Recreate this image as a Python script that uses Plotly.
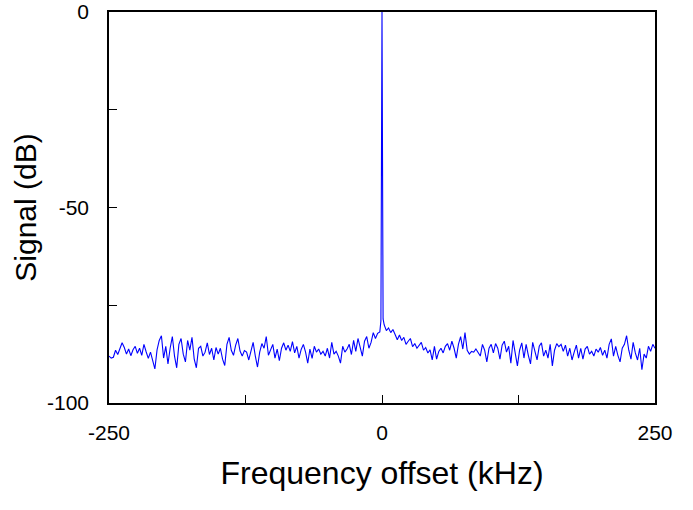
import numpy as np
import plotly.graph_objects as go

# Signal (dB) at 2 kHz steps, from -250 to -2 kHz
left_db = [
    -88.0,-88.5,-88.3,-86.5,-87.6,-86.0,-84.6,-85.8,-87.5,-86.2,-87.9,-86.4,-85.5,-87.3,-86.0,-87.8,-85.0,-86.9,-88.6,-87.0,-89.5,-91.3,-86.4,-84.0,-82.8,
    -88.5,-85.5,-90.0,-86.0,-83.0,-88.0,-91.0,-85.0,-83.5,-87.5,-89.5,-84.0,-86.5,-83.2,-88.7,-91.0,-86.0,-85.5,-88.0,-87.0,-84.6,-87.6,-86.0,-89.0,-85.8,
    -87.5,-86.0,-88.8,-90.4,-85.0,-83.2,-86.5,-87.8,-85.2,-83.5,-86.7,-88.0,-86.6,-87.0,-89.0,-86.5,-84.5,-88.0,-90.8,-87.0,-84.8,-86.0,-83.0,-87.8,-86.5,
    -85.0,-88.5,-86.2,-89.2,-86.0,-84.6,-86.5,-85.2,-86.8,-84.3,-87.2,-85.5,-88.5,-86.3,-85.0,-87.0,-89.8,-86.2,-88.6,-85.5,-87.0,-86.2,-87.5,-86.8,-88.0,
    -86.0,-88.5,-84.5,-87.5,-86.8,-88.0,-89.8,-85.5,-87.0,-86.2,-85.0,-87.6,-84.0,-86.8,-83.5,-85.5,-88.0,-84.2,-83.0,-86.0,-84.5,-82.0,-83.5,-82.2,-81.8,
]
# carrier peak at 0 kHz
peak_db = [-79.0, 0.0, -78.5]
peak_khz = [-1, 0, 1]
# Signal (dB) at 2 kHz steps, from 2 to 250 kHz
right_db = [
    -80.0,-81.5,-80.8,-82.0,-81.2,-82.5,-83.8,-82.6,-84.0,-83.2,-85.0,-84.2,-83.5,-85.6,-84.8,-86.0,-85.2,-84.5,-86.5,-85.8,-87.2,-86.4,-89.0,-85.5,-88.8,
    -86.8,-86.0,-87.2,-85.5,-84.8,-86.5,-84.2,-86.0,-88.5,-85.0,-83.0,-86.2,-82.0,-86.5,-87.5,-86.8,-87.0,-86.2,-87.2,-88.0,-85.0,-86.5,-89.5,-86.0,-85.0,
    -87.2,-84.8,-86.0,-88.8,-85.2,-84.2,-87.0,-85.5,-89.8,-84.0,-86.8,-90.5,-86.5,-84.6,-88.5,-85.0,-87.8,-90.0,-84.5,-86.8,-89.0,-85.5,-84.6,-88.0,-86.5,
    -88.5,-85.0,-90.5,-86.5,-84.8,-85.6,-85.0,-86.8,-85.2,-88.0,-86.0,-89.0,-87.0,-85.2,-88.5,-86.0,-88.8,-86.2,-85.5,-87.5,-86.8,-88.0,-86.2,-87.0,-85.8,
    -87.8,-86.5,-88.5,-85.0,-83.6,-88.0,-85.5,-87.8,-89.5,-86.0,-85.0,-82.8,-86.5,-88.8,-84.5,-87.2,-89.0,-86.0,-91.5,-87.5,-88.5,-85.5,-86.8,-85.0,-86.0,
]

x_tickvals = [-250, 0, 250]
x_ticktext = ["-250", "0", "250"]
y_tickvals = [-100, -50, 0]
y_ticktext = ["-100", "-50", "0"]

left_khz = list(np.arange(-250, 0, 2)[:len(left_db)])
right_khz = list(np.arange(2, 252, 2)[:len(right_db)])

x = left_khz + peak_khz + right_khz
y = left_db + peak_db + right_db

fig = go.Figure(go.Scatter(x=x, y=y, mode="lines",
                           line=dict(color="rgb(0,0,255)", width=1.1)))

font = "Liberation Sans, Arial, sans-serif"
fig.update_layout(
    width=693, height=510,
    margin=dict(l=109, r=38, t=12, b=107),
    paper_bgcolor="white", plot_bgcolor="white",
    showlegend=False,
    font=dict(family=font, color="black"),
)
fig.update_xaxes(
    range=[-250, 250], tickvals=x_tickvals, ticktext=x_ticktext,
    ticks="inside", ticklen=8, automargin=False, ticklabeloverflow="allow",
    tickcolor="black", showgrid=False, zeroline=False,
    showline=True, linecolor="black", linewidth=1.5, mirror=True,
    minor=dict(tickvals=[-125, 125], ticks="inside", ticklen=8, tickcolor="black"),
    tickfont=dict(size=21), ticklabelstandoff=10,
    title=dict(text="Frequency offset (kHz)", font=dict(size=32), standoff=19),
)
fig.update_yaxes(
    range=[-100, 0], tickvals=y_tickvals, ticktext=y_ticktext,
    ticks="inside", ticklen=8, automargin=False, ticklabeloverflow="allow",
    tickcolor="black", showgrid=False, zeroline=False,
    showline=True, linecolor="black", linewidth=1.5, mirror=True,
    minor=dict(tickvals=[-75, -25], ticks="inside", ticklen=8, tickcolor="black"),
    tickfont=dict(size=21), ticklabelstandoff=14,
    title=dict(text="Signal (dB)", font=dict(size=30), standoff=2),
)
fig.write_html("out.html")
